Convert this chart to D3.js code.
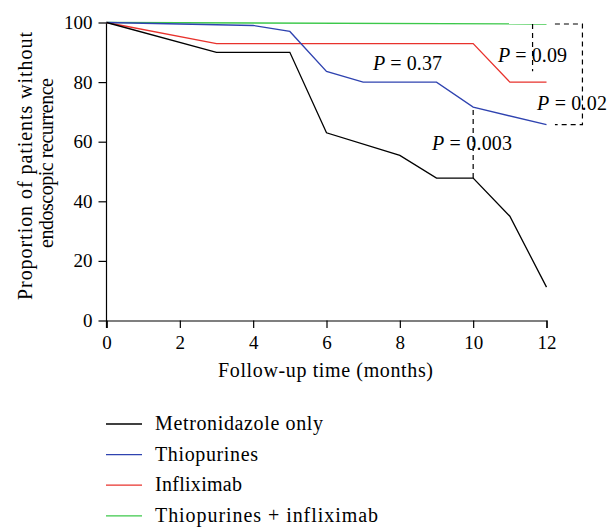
<!DOCTYPE html>
<html><head><meta charset="utf-8">
<script src="https://cdn.jsdelivr.net/npm/d3@7"></script>
<style>body{margin:0;background:#fff}svg{display:block}</style>
</head><body><svg id="c" width="609" height="528"></svg>
<script>
const xTicks = [0, 2, 4, 6, 8, 10, 12];
const yTicks = [0, 20, 40, 60, 80, 100];
const seriesNames = ["Metronidazole only", "Thiopurines", "Infliximab", "Thiopurines + infliximab"];
const seriesColors = ["#000000", "#2f43b0", "#e8322c", "#3cc84a"];
const metroMonths = [0, 3, 5, 6, 8, 9, 10, 11, 12];
const metroValues = [100, 90, 90, 63, 55.4, 47.8, 47.8, 35, 11.2];
const thioMonths = [0, 4, 5, 6, 7, 9, 10, 12];
const thioValues = [100, 99, 97, 83.6, 80, 80, 71.6, 65.7];
const inflixMonths = [0, 3, 10, 11, 12];
const inflixValues = [100, 92.9, 92.9, 80, 80];
const comboMonths = [0, 12];
const comboValues = [100, 99.5];
const pLabels = ["0.37", "0.09", "0.02", "0.003"];

const FONT = "Liberation Serif";
const svg = d3.select("#c").attr("font-family", FONT);
const x = d3.scaleLinear().domain([0, 12]).range([106.5, 546.5]);
const y = d3.scaleLinear().domain([0, 100]).range([320.5, 22.5]);

const xAxis = svg.append("g").attr("transform", "translate(0,320.5)")
  .call(d3.axisBottom(x).tickValues(xTicks).tickSize(7.5).tickPadding(8));
const yAxis = svg.append("g").attr("transform", "translate(106.5,0)")
  .call(d3.axisLeft(y).tickValues(yTicks).tickSize(8).tickPadding(6));
[xAxis, yAxis].forEach(a => {
  a.attr("font-family", FONT).attr("font-size", 19);
  a.select(".domain").attr("stroke", "#000").attr("stroke-width", 1.2);
  a.selectAll(".tick line").attr("stroke", "#000").attr("stroke-width", 1.2);
  a.selectAll(".tick text").attr("fill", "#000");
});
yAxis.select(".domain").attr("d", "M0,22.5V328");

const data = [
  [metroMonths, metroValues], [thioMonths, thioValues],
  [inflixMonths, inflixValues], [comboMonths, comboValues]
];
const line = d3.line().x(d => x(d[0])).y(d => y(d[1]));
[3, 2, 1, 0].forEach(i => {
  const pts = data[i][0].map((m, k) => [m, data[i][1][k]]);
  svg.append("path").attr("d", line(pts)).attr("fill", "none")
    .attr("stroke", seriesColors[i]).attr("stroke-width", 1.3);
});

// dashed comparison markers
const dash = "5,4";
svg.append("line").attr("x1", x(10)).attr("x2", x(10)).attr("y1", y(47.8)).attr("y2", y(71.6))
  .attr("stroke", "#000").attr("stroke-width", 1.2).attr("stroke-dasharray", dash);
svg.append("line").attr("x1", x(11.62)).attr("x2", x(11.62)).attr("y1", y(99.5)).attr("y2", y(83.6))
  .attr("stroke", "#000").attr("stroke-width", 1.2).attr("stroke-dasharray", dash);
svg.append("path")
  .attr("d", `M${x(12.23)},${y(99.5)}H${x(12.98)}V${y(65.7)}H${x(12.23)}`)
  .attr("fill", "none").attr("stroke", "#000").attr("stroke-width", 1.2).attr("stroke-dasharray", dash);

// P labels
const pPos = [[373, 70, 69], [498, 61.5, 69], [537, 110, 70], [432, 150, 80]];
pLabels.forEach((p, i) => {
  const t = svg.append("text").attr("x", pPos[i][0]).attr("y", pPos[i][1])
    .attr("font-family", FONT).attr("font-size", 20)
    .attr("textLength", pPos[i][2]).attr("lengthAdjust", "spacing");
  t.append("tspan").attr("font-style", "italic").text("P");
  t.append("tspan").text(" = " + p);
});

// axis titles
svg.append("text").attr("x", 325.5).attr("y", 376.5).attr("text-anchor", "middle")
  .attr("font-family", FONT).attr("font-size", 20)
  .attr("textLength", 215).attr("lengthAdjust", "spacing")
  .text("Follow-up time (months)");
const yt = svg.append("text").attr("transform", "translate(0,166) rotate(-90)").attr("text-anchor", "middle")
  .attr("font-family", FONT).attr("font-size", 20);
yt.append("tspan").attr("x", 0).attr("y", 32).attr("textLength", 268).attr("lengthAdjust", "spacing")
  .text("Proportion of patients without");
yt.append("tspan").attr("x", 3).attr("y", 52.5).attr("textLength", 170).attr("lengthAdjust", "spacing")
  .text("endoscopic recurrence");

// legend
const legendWidths = [168, 103, 87, 223];
seriesNames.forEach((n, i) => {
  const base = 430 + i * 30.6;
  svg.append("line").attr("x1", 106).attr("x2", 142).attr("y1", base - 6).attr("y2", base - 6)
    .attr("stroke", seriesColors[i]).attr("stroke-width", 1.3);
  svg.append("text").attr("x", 155).attr("y", base)
    .attr("font-family", FONT).attr("font-size", 20)
    .attr("textLength", legendWidths[i]).attr("lengthAdjust", "spacing").text(n);
});
</script></body></html>
